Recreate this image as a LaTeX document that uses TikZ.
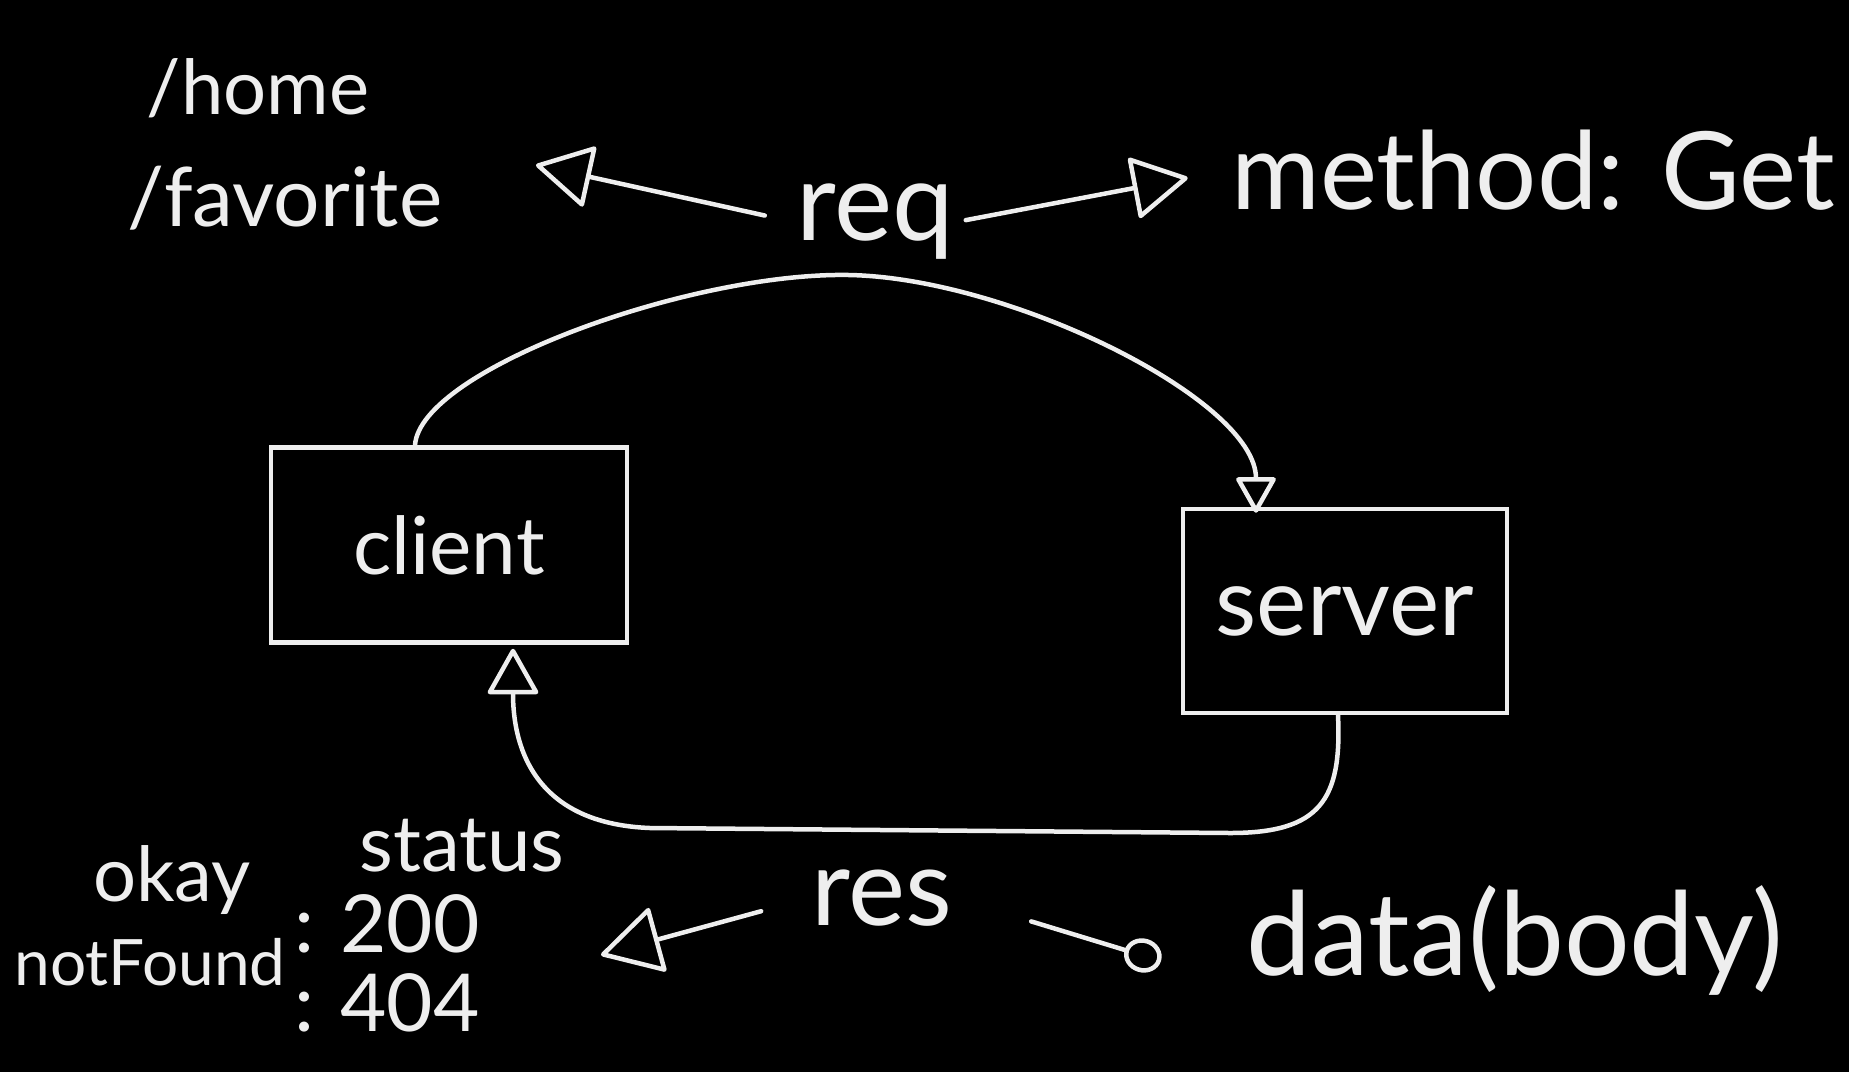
\documentclass[tikz,border=0pt]{standalone}
\usepackage{fontspec}
\setmainfont{Lato}
\usetikzlibrary{arrows.meta}
\definecolor{fg}{HTML}{EEEEEE}
\newcommand{\fsz}[1]{\fontsize{#1}{#1}\selectfont}
\begin{document}
\begin{tikzpicture}[x=1pt,y=-1pt,
  lbl/.style={text=fg, inner sep=2pt},
  boxnode/.style={draw=fg, line width=4.5pt, text=fg, inner sep=0pt},
  conn/.style={draw=fg, line width=4.5pt, line cap=round, line join=round},
  tri/.style={-{Triangle[open, length=#1, width=#1*1.1, line join=round]}},
  tri/.default=50pt,
  dot/.style={-{Circle[open, length=38pt, width=34pt]}}
]
\fill[black] (0,0) rectangle (1849,1072);
\useasboundingbox (0,0) rectangle (1849,1072);

% top labels
\node[lbl, font=\fsz{76}] (home) at (258,88) {/home};
\node[lbl, font=\fsz{82}] (fav) at (285,198) {/favorite};
\node[lbl, font=\fsz{110}] (req) at (875,222) {req};
\node[lbl, font=\fsz{108}] (method) at (1533,170) {method: Get};
\coordinate (favtip) at (536,165);

% boxes
\node[boxnode, minimum width=356pt, minimum height=195pt, font=\fsz{80}] (client) at (449,545) {client};
\node[boxnode, minimum width=324pt, minimum height=204pt, font=\fsz{95}] (server) at (1345,611) {server};
\coordinate (toppeak) at (849,275);

% bottom labels
\node[lbl, font=\fsz{78}] (status) at (462,846) {status};
\node[lbl, font=\fsz{76}] (okay) at (172,880) {okay};
\node[lbl, font=\fsz{80}, anchor=west] (v200) at (292,924) {:\hspace{26pt}200};
\node[lbl, font=\fsz{64}] (nf) at (150,962) {notFound};
\node[lbl, font=\fsz{80}, anchor=west] (v404) at (292,1003) {:\hspace{26pt}404};
\node[lbl, font=\fsz{108}] (res) at (882,898) {res};
\node[lbl, font=\fsz{116}] (data) at (1515,940) {data(body)};
\coordinate (stattip) at (601,955);
\coordinate (datatip) at (1161,961);

% request arrows
\draw[conn, tri=58pt, shorten <=30pt] (req.west) -- (favtip);
\draw[conn, tri=58pt, shorten <=10pt, shorten >=42pt] (req.east) -- (method.west);

% req curve client -> server
\draw[conn, tri=38pt] ([xshift=-34pt]client.north)
  .. controls (420,370) and (690,272) .. (toppeak)
  .. controls (1010,278) and (1256,400) .. ([xshift=-89pt, yshift=-6pt]server.north);

% res curve server -> client
\draw[conn, tri=48pt] ([xshift=-7pt]server.south)
  .. controls (1342,800) and (1320,833) .. (1230,833)
  -- (650,828)
  .. controls (545,824) and (513,760) .. ([xshift=64pt, yshift=-4pt]client.south);

% response arrows
\draw[conn, tri=62pt, shorten <=50pt] (res.west) -- (stattip);
\draw[conn, dot, shorten <=80pt] (res.east) -- (datatip);
\end{tikzpicture}
\end{document}
